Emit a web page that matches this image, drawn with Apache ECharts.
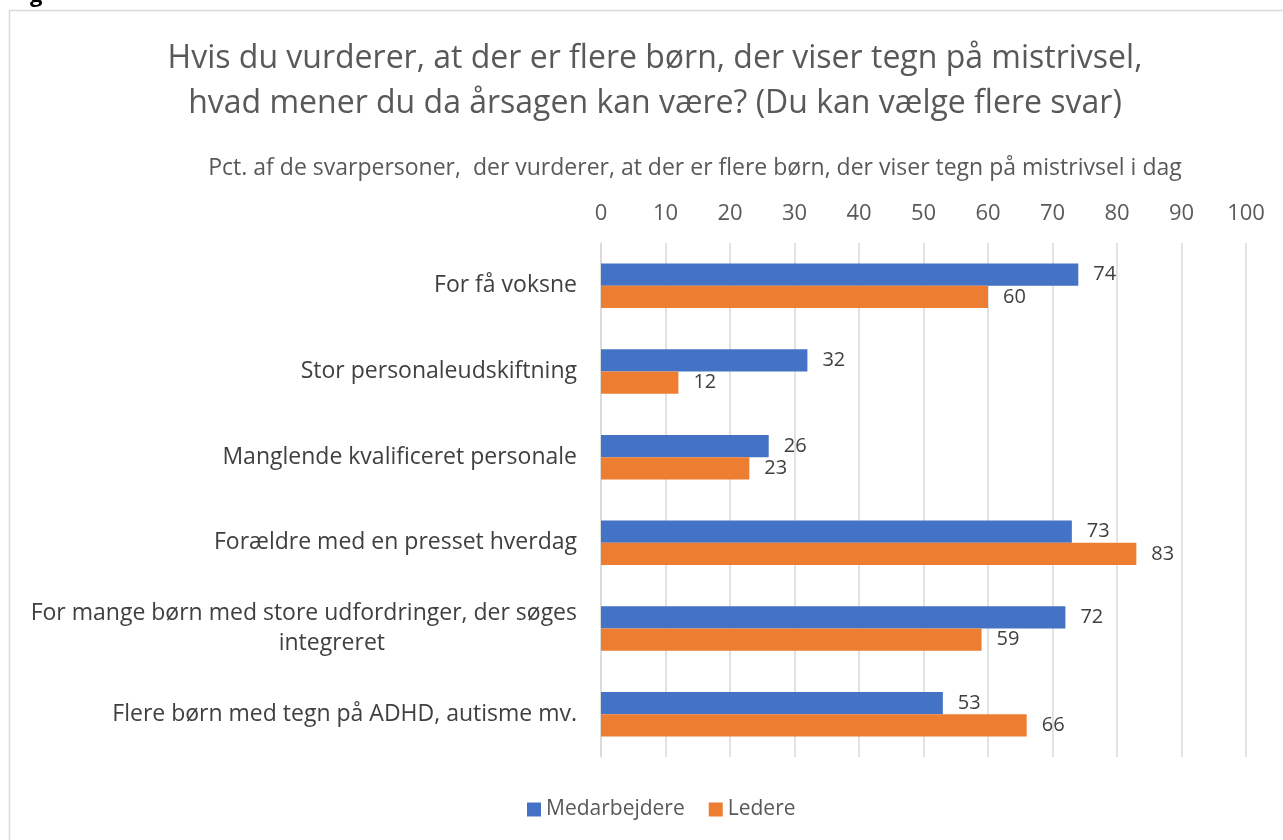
<!DOCTYPE html>
<html>
<head>
<meta charset="utf-8">
<script src="https://cdn.jsdelivr.net/npm/echarts@6/dist/echarts.min.js"></script>
<style>
  html, body { margin: 0; padding: 0; background: #fff; }
  #chart { width: 1283px; height: 840px; }
</style>
</head>
<body>
<div id="chart"></div>
<script>
const categories = [
  'For få voksne',
  'Stor personaleudskiftning',
  'Manglende kvalificeret personale',
  'Forældre med en presset hverdag',
  'For mange børn med store udfordringer, der søges\nintegreret',
  'Flere børn med tegn på ADHD, autisme mv.'
]
const medarbejdere = [74, 32, 26, 73, 72, 53]
const ledere = [60, 12, 23, 83, 59, 66]
const xTicks = { min: 0, max: 100, interval: 10 }

const font = '"Open Sans", sans-serif'
const textColor = '#595959'

const chart = echarts.init(document.getElementById('chart'))
chart.setOption({
  animation: false,
  textStyle: { fontFamily: font },
  graphic: [
    {
      type: 'rect',
      shape: { x: 9.5, y: 10.5, width: 1290, height: 850 },
      style: { fill: 'none', stroke: '#d9d9d9', lineWidth: 1.5 }
    },
    {
      type: 'text',
      left: 30, top: -15,
      style: { text: 'g', font: 'bold 22px ' + font, fill: '#000' }
    }
  ],
  title: [{
    text: 'Hvis du vurderer, at der er flere børn, der viser tegn på mistrivsel,\nhvad mener du da årsagen kan være? (Du kan vælge flere svar)',
    left: 650,
    textAlign: 'center',
    top: 31,
    textStyle: { fontSize: 32, fontWeight: 'normal', color: textColor, lineHeight: 45, fontFamily: font }
  }, {
    text: 'Pct. af de svarpersoner,  der vurderer, at der er flere børn, der viser tegn på mistrivsel i dag',
    left: 690,
    textAlign: 'center',
    top: 152,
    textStyle: { fontSize: 23, fontWeight: 'normal', color: textColor, fontFamily: font }
  }],
  legend: {
    bottom: 15,
    left: 522,
    itemWidth: 14,
    itemHeight: 14,
    itemGap: 24,
    icon: 'rect',
    textStyle: { fontSize: 21, color: textColor, fontFamily: font },
    data: ['Medarbejdere', 'Ledere']
  },
  grid: { left: 601, right: 37, top: 243, bottom: 83, containLabel: false },
  xAxis: {
    type: 'value',
    position: 'top',
    min: xTicks.min,
    max: xTicks.max,
    interval: xTicks.interval,
    axisLine: { show: false },
    axisTick: { show: false },
    axisLabel: { fontSize: 22, color: textColor, margin: 18, fontFamily: font },
    splitLine: { lineStyle: { color: '#d9d9d9', width: 1.5 } }
  },
  yAxis: {
    type: 'category',
    inverse: true,
    data: categories,
    axisLine: { show: true, lineStyle: { color: '#d9d9d9', width: 1.5 } },
    axisTick: { show: false },
    axisLabel: {
      fontSize: 23,
      color: '#404040',
      margin: 24,
      lineHeight: 30,
      fontFamily: font,
      formatter: function (v) {
        const parts = v.split('\n')
        if (parts.length === 1) return v
        return parts[0] + '\n{c|' + parts[1] + '}'
      },
      rich: {
        c: { fontSize: 23, color: '#404040', fontFamily: font, padding: [0, 192, 0, 0], lineHeight: 30 }
      }
    }
  },
  series: [{
    name: 'Medarbejdere',
    type: 'bar',
    data: medarbejdere,
    barGap: '0%',
    barCategoryGap: '48%',
    itemStyle: { color: '#4472C4' },
    label: { show: true, position: 'right', fontSize: 20, color: '#404040', distance: 15, fontFamily: font }
  }, {
    name: 'Ledere',
    type: 'bar',
    data: ledere,
    itemStyle: { color: '#ED7D31' },
    label: { show: true, position: 'right', fontSize: 20, color: '#404040', distance: 15, fontFamily: font }
  }]
})
</script>
</body>
</html>
